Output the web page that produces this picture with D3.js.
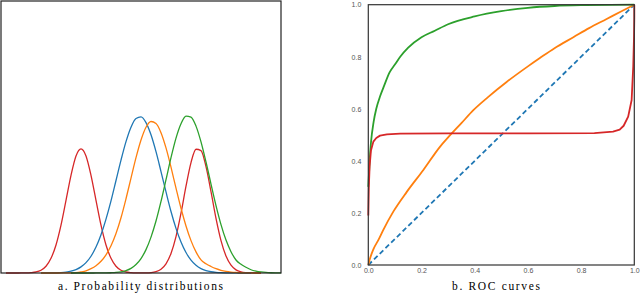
<!DOCTYPE html>
<html>
<head>
<meta charset="utf-8">
<script src="https://cdn.jsdelivr.net/npm/d3@7"></script>
<style>
  body { margin: 0; background: #fff; }
  svg { display: block; }
</style>
</head>
<body>
<svg width="640" height="293"></svg>
<script>

// panel a: densities sampled on a shared grid (0..28, step 0.5)
let gridX = d3.range(0, 28.01, 0.5);

let redDensity = [null, 0, 0, 0, 0.0001, 0.0003, 0.0012, 0.0037, 0.0102, 0.0248,
  0.054, 0.103, 0.176, 0.267, 0.359, 0.430, 0.456, 0.430, 0.359, 0.267,
  0.176, 0.103, 0.054, 0.0248, 0.0102, 0.0037, 0.0012, 0.0003, 0.0002, 0.0005,
  0.0016, 0.0051, 0.014, 0.0338, 0.072, 0.134, 0.220, 0.319, 0.406, 0.455,
  0.450, 0.391, 0.299, 0.201, 0.119, 0.0623, 0.0286, 0.0116, 0.0041, 0.0013,
  0.0004, 0.0001, 0, null, null, null, null];

let blueDensity = [null, null, null, null, null, null, null, null, 0.0001, 0.0001,
  0.0003, 0.0008, 0.0017, 0.0034, 0.0067, 0.0126, 0.0224, 0.038, 0.0616, 0.0953,
  0.1406, 0.198, 0.265, 0.340, 0.415, 0.483, 0.536, 0.568, 0.574, 0.553,
  0.508, 0.446, 0.373, 0.298, 0.226, 0.164, 0.114, 0.0752, 0.0473, 0.0284,
  0.0163, 0.0089, 0.0046, 0.0023, 0.0011, 0.0005, 0.0002, 0.0001, 0, 0,
  0, null, null, null, null, null, null];

let orangeDensity = [null, null, null, null, null, null, null, null, 0, 0,
  0, 0, 0.0001, 0.0003, 0.0006, 0.0014, 0.004, 0.008, 0.016, 0.027,
  0.043, 0.067, 0.100, 0.145, 0.203, 0.273, 0.349, 0.424, 0.489, 0.536,
  0.557, 0.550, 0.516, 0.460, 0.389, 0.312, 0.238, 0.173, 0.119, 0.0776,
  0.0481, 0.034, 0.024, 0.016, 0.010, 0.006, 0.0035, 0.002, 0.001, 0.0005,
  0.0002, 0, 0, null, null, null, null];

let greenDensity = [null, null, null, null, null, null, null, null, null, null,
  null, null, null, null, 0, 0, 0, 0, 0, 0.0001,
  0.0002, 0.0004, 0.001, 0.0021, 0.0045, 0.0091, 0.0172, 0.0311, 0.0531, 0.0859,
  0.132, 0.191, 0.263, 0.343, 0.424, 0.496, 0.549, 0.577, 0.573, 0.540,
  0.482, 0.408, 0.327, 0.248, 0.178, 0.121, 0.0783, 0.0479, 0.032, 0.021,
  0.012, 0.007, 0.004, 0.002, 0.001, 0.0005, 0.0002];

// panel b: ROC curves, [false positive rate, true positive rate]
let rocGreen = [[0, 0.3], [0.005, 0.4], [0.01, 0.47], [0.02, 0.55], [0.03, 0.6],
  [0.045, 0.65], [0.06, 0.69], [0.08, 0.74], [0.1, 0.77], [0.12, 0.8],
  [0.15, 0.835], [0.2, 0.875], [0.25, 0.9], [0.3, 0.925], [0.4, 0.955],
  [0.5, 0.975], [0.6, 0.988], [0.7, 0.995], [0.8, 0.998], [1, 1]];

let rocOrange = [[0, 0], [0.005, 0.02], [0.019, 0.06], [0.04, 0.1], [0.056, 0.134],
  [0.094, 0.205], [0.144, 0.28], [0.207, 0.365], [0.27, 0.455], [0.3, 0.49],
  [0.35, 0.545], [0.395, 0.595], [0.45, 0.645], [0.52, 0.703], [0.6, 0.763],
  [0.645, 0.795], [0.7, 0.833], [0.771, 0.875], [0.83, 0.91], [0.896, 0.945],
  [0.95, 0.974], [1, 1]];

let rocRed = [[0, 0.19], [0.002, 0.3], [0.005, 0.38], [0.01, 0.44], [0.019, 0.474],
  [0.03, 0.488], [0.044, 0.497], [0.07, 0.502], [0.12, 0.505], [0.3, 0.506],
  [0.6, 0.506], [0.85, 0.507], [0.92, 0.512], [0.945, 0.52], [0.96, 0.535],
  [0.977, 0.57], [0.99, 0.634], [0.996, 0.762], [0.999, 0.88], [1, 0.95], [1, 1]];

let rocChance = [[0, 0], [1, 1]];

let rocTicks = [0, 0.2, 0.4, 0.6, 0.8, 1.0];

let captionA = 'a.  Probability distributions';
let captionB = 'b.  ROC curves';

let svg = d3.select('svg');

// ---------- panel a ----------
let xA = d3.scaleLinear().domain([0, 28]).range([1, 281]);
let yA = d3.scaleLinear().domain([0, 1]).range([273, 1]);

let densityLine = d3.line()
                    .defined(function(d) { return d[1] !== null; })
                    .x(function(d) { return xA(d[0]); })
                    .y(function(d) { return yA(d[1]); })
                    .curve(d3.curveMonotoneX);

let densities = [
  { name: 'red', values: redDensity, color: '#d62728' },
  { name: 'blue', values: blueDensity, color: '#1f77b4' },
  { name: 'orange', values: orangeDensity, color: '#ff7f0e' },
  { name: 'green', values: greenDensity, color: '#2ca02c' }
];

let gA = svg.append('g').attr('id', 'panelA');

densities.forEach(function(s) {
  let pts = gridX.map(function(x, i) { return [x, s.values[i]]; });
  gA.append('path')
    .attr('id', s.name + 'Density')
    .attr('d', densityLine(pts))
    .attr('fill', 'none')
    .attr('stroke', s.color)
    .attr('stroke-width', 1.3);
});

gA.append('rect')
  .attr('x', 1)
  .attr('y', 1)
  .attr('width', 280)
  .attr('height', 272)
  .attr('fill', 'none')
  .attr('stroke', '#222')
  .attr('stroke-width', 1.2);

// ---------- panel b ----------
let xB = d3.scaleLinear().domain([0, 1]).range([368.3, 634.3]);
let yB = d3.scaleLinear().domain([0, 1]).range([265, 4.7]);

let gB = svg.append('g').attr('id', 'panelB');

let xAxis = d3.axisBottom(xB)
              .tickValues(rocTicks)
              .tickFormat(d3.format('.1f'))
              .tickSize(0)
              .tickPadding(3);

let yAxis = d3.axisLeft(yB)
              .tickValues(rocTicks)
              .tickFormat(d3.format('.1f'))
              .tickSize(0)
              .tickPadding(7);

gB.append('g')
  .attr('id', 'xAxisB')
  .attr('transform', 'translate(0,265)')
  .call(xAxis);

gB.append('g')
  .attr('id', 'yAxisB')
  .attr('transform', 'translate(368.3,0)')
  .call(yAxis);

gB.selectAll('.domain').remove();
gB.selectAll('.tick text')
  .attr('font-family', 'Liberation Sans, Arial, sans-serif')
  .attr('font-size', 7)
  .attr('fill', '#555');

let rocLine = d3.line()
                .x(function(d) { return xB(d[0]); })
                .y(function(d) { return yB(d[1]); })
                .curve(d3.curveMonotoneX);

let rocLineLinear = d3.line()
                      .x(function(d) { return xB(d[0]); })
                      .y(function(d) { return yB(d[1]); });

gB.append('path')
  .attr('id', 'chanceLine')
  .attr('d', rocLineLinear(rocChance))
  .attr('fill', 'none')
  .attr('stroke', '#1f77b4')
  .attr('stroke-width', 1.8)
  .attr('stroke-dasharray', '5,3');

gB.append('path')
  .attr('id', 'orangeRoc')
  .attr('d', rocLine(rocOrange))
  .attr('fill', 'none')
  .attr('stroke', '#ff7f0e')
  .attr('stroke-width', 1.8);

gB.append('path')
  .attr('id', 'greenRoc')
  .attr('d', rocLine(rocGreen))
  .attr('fill', 'none')
  .attr('stroke', '#2ca02c')
  .attr('stroke-width', 1.8);

gB.append('path')
  .attr('id', 'redRoc')
  .attr('d', rocLineLinear(rocRed))
  .attr('fill', 'none')
  .attr('stroke', '#d62728')
  .attr('stroke-width', 1.8)
  .attr('stroke-linejoin', 'round');

gB.append('rect')
  .attr('x', 368.3)
  .attr('y', 4.7)
  .attr('width', 266)
  .attr('height', 260.3)
  .attr('fill', 'none')
  .attr('stroke', '#333')
  .attr('stroke-width', 1.2);

// ---------- captions ----------
svg.append('text')
   .attr('x', 58)
   .attr('y', 290)
   .attr('textLength', 165)
   .attr('lengthAdjust', 'spacing')
   .attr('font-family', 'Liberation Serif, serif')
   .attr('font-size', 11.5)
   .attr('fill', '#000')
   .text(captionA);

svg.append('text')
   .attr('x', 452)
   .attr('y', 290)
   .attr('textLength', 88)
   .attr('lengthAdjust', 'spacing')
   .attr('font-family', 'Liberation Serif, serif')
   .attr('font-size', 11.5)
   .attr('fill', '#000')
   .text(captionB);

</script>
</body>
</html>
